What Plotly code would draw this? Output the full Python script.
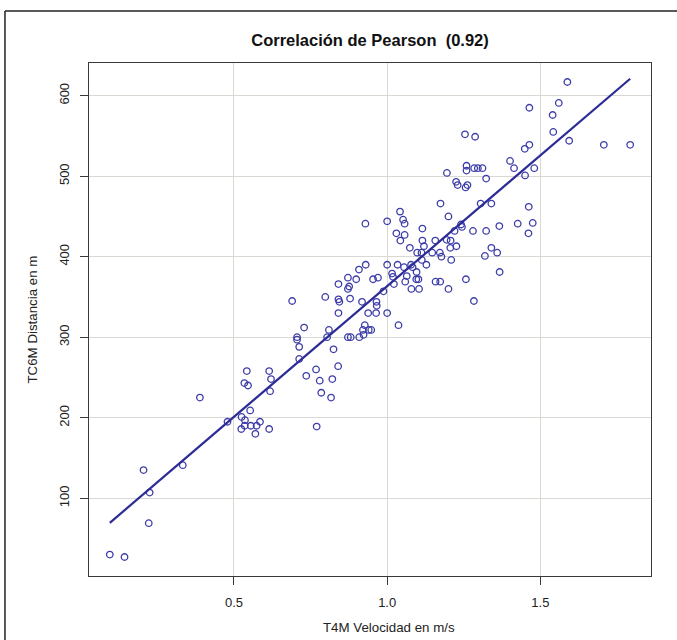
import numpy as np
import plotly.graph_objects as go

# T4M walking speed (m/s) and TC6M six-minute walk distance (m) per subject
velocidad = [
    0.095, 0.143, 0.205, 0.222, 0.225, 0.333, 0.479, 0.525, 0.536, 0.524,
    0.535, 0.555, 0.574, 0.585, 0.570, 0.615, 0.553, 0.389, 0.770, 0.542,
    0.615, 0.621, 0.534, 0.546, 0.618, 0.736, 0.768, 0.780, 0.785, 0.817,
    0.821, 0.840, 0.713, 0.825, 0.713, 0.706, 0.706, 0.804, 0.872, 0.881,
    0.909, 0.923, 0.729, 0.810, 0.927, 0.921, 0.940, 0.948, 1.037, 0.841,
    0.938, 0.964, 1.000, 0.690, 0.798, 0.841, 0.844, 0.879, 0.918, 0.965,
    0.966, 0.841, 0.876, 0.872, 0.988, 1.022, 0.872, 0.899, 0.954, 0.970,
    1.016, 1.019, 0.930, 0.908, 1.000, 1.034, 0.929, 1.055, 1.078, 1.083,
    1.128, 1.096, 1.064, 1.000, 1.042, 1.052, 1.057, 1.030, 1.057, 1.043,
    1.074, 1.098, 1.112, 1.113, 1.115, 1.115, 1.120, 1.147, 1.157, 1.172,
    1.177, 1.174, 1.194, 1.207, 1.206, 1.209, 1.226, 1.200, 1.220, 1.241,
    1.244, 1.195, 1.225, 1.230, 1.256, 1.262, 1.259, 1.259, 1.284, 1.296,
    1.311, 1.323, 1.305, 1.340, 1.280, 1.323, 1.340, 1.319, 1.359, 1.366,
    1.426, 1.367, 1.401, 1.414, 1.450, 1.462, 1.461, 1.059, 1.095, 1.102,
    1.079, 1.104, 1.158, 1.173, 1.200, 1.257, 1.283, 1.588, 1.560, 1.464,
    1.540, 1.542, 1.594, 1.707, 1.793, 1.464, 1.449, 1.480, 1.475, 1.254,
    1.287,
]
distancia = [
    30, 27, 135, 69, 107, 141, 195, 201, 197, 186,
    190, 190, 190, 195, 180, 186, 209, 225, 189, 258,
    258, 248, 243, 240, 233, 252, 260, 246, 231, 225,
    248, 264, 273, 285, 288, 300, 297, 300, 300, 300,
    300, 303, 312, 309, 315, 309, 309, 309, 315, 330,
    330, 330, 330, 345, 350, 347, 344, 348, 344, 344,
    339, 366, 363, 360, 357, 366, 374, 372, 372, 374,
    379, 375, 390, 384, 390, 390, 441, 387, 390, 387,
    390, 381, 376, 444, 456, 446, 441, 429, 427, 420,
    411, 405, 405, 396, 435, 420, 413, 405, 420, 405,
    400, 466, 421, 420, 411, 396, 413, 450, 432, 440,
    437, 504, 493, 489, 486, 489, 513, 507, 510, 510,
    510, 497, 466, 466, 432, 432, 411, 401, 405, 438,
    441, 381, 519, 510, 501, 462, 429, 369, 372, 372,
    360, 360, 369, 369, 360, 372, 345, 617, 591, 585,
    576, 555, 544, 539, 539, 539, 534, 510, 442, 552,
    549,
]

titulo = "Correlación de Pearson  (0.92)"
eje_x = "T4M Velocidad en m/s"
eje_y = "TC6M Distancia en m"
x_ticks = [0.5, 1.0, 1.5]
x_tick_text = ["0.5", "1.0", "1.5"]
y_ticks = [100, 200, 300, 400, 500, 600]

x = np.array(velocidad)
y = np.array(distancia)

# least-squares fit, drawn over the observed speed range
pendiente, intercepto = np.polyfit(x, y, 1)
x_fit = np.array([x.min(), x.max()])
y_fit = intercepto + pendiente * x_fit

# R-style 4 % padding around the data range
def padded(lo, hi, f=0.04):
    d = (hi - lo) * f
    return [lo - d, hi + d]

azul_linea = "#2c2c96"
azul_punto = "#3c3ca8"
gris_marco = "#3a3a3a"
gris_rejilla = "#d9d9d4"
fuente = "Liberation Sans, Arial, sans-serif"
texto = "#222222"

fig = go.Figure()
fig.add_trace(go.Scatter(
    x=x, y=y, mode="markers",
    marker=dict(symbol="circle-open", size=6.5, color=azul_punto,
                line=dict(width=1.3, color=azul_punto)),
    hoverinfo="x+y", showlegend=False,
))
fig.add_trace(go.Scatter(
    x=x_fit, y=y_fit, mode="lines",
    line=dict(color=azul_linea, width=2.2),
    hoverinfo="skip", showlegend=False,
))

eje_comun = dict(
    showgrid=True, gridcolor=gris_rejilla, gridwidth=1,
    zeroline=False, showline=True, mirror=True,
    linecolor=gris_marco, linewidth=1,
    ticks="outside", ticklen=8, tickwidth=1, tickcolor=gris_marco,
    tickfont=dict(family=fuente, size=13, color=texto),
)

fig.update_xaxes(range=padded(x.min(), x.max()), tickvals=x_ticks,
                 ticktext=x_tick_text, ticklabelstandoff=6, **eje_comun)
fig.update_yaxes(range=padded(y.min(), y.max()), tickvals=y_ticks,
                 tickangle=-90, ticklabelstandoff=6, **eje_comun)

fig.update_layout(
    width=677, height=640,
    margin=dict(l=89, r=26, t=63, b=64),
    paper_bgcolor="white", plot_bgcolor="white",
    font=dict(family=fuente, color=texto),
    title=dict(text="<b>" + titulo + "</b>", x=0.5, xref="paper",
               y=1 - 40 / 640, yref="container", yanchor="middle",
               xanchor="center", font=dict(family=fuente, size=16.5, color="#111111")),
    annotations=[
        dict(text=eje_x, xref="paper", yref="paper", x=0.534, y=-0.101,
             xanchor="center", yanchor="middle", showarrow=False,
             font=dict(family=fuente, size=13.3, color=texto)),
        dict(text=eje_y, xref="paper", yref="paper", x=-0.1014, y=0.5,
             textangle=-90, xanchor="center", yanchor="middle", showarrow=False,
             font=dict(family=fuente, size=13.3, color=texto)),
    ],
    shapes=[
        # outer frame (top and left edges)
        dict(type="line", xref="paper", yref="paper",
             x0=-0.1495, x1=1.1, y0=1.1014, y1=1.1014,
             line=dict(color=texto, width=1.5)),
        dict(type="line", xref="paper", yref="paper",
             x0=-0.1495, x1=-0.1495, y0=1.1014, y1=-0.13,
             line=dict(color=texto, width=1.5)),
    ],
)

fig.write_html("out.html")
